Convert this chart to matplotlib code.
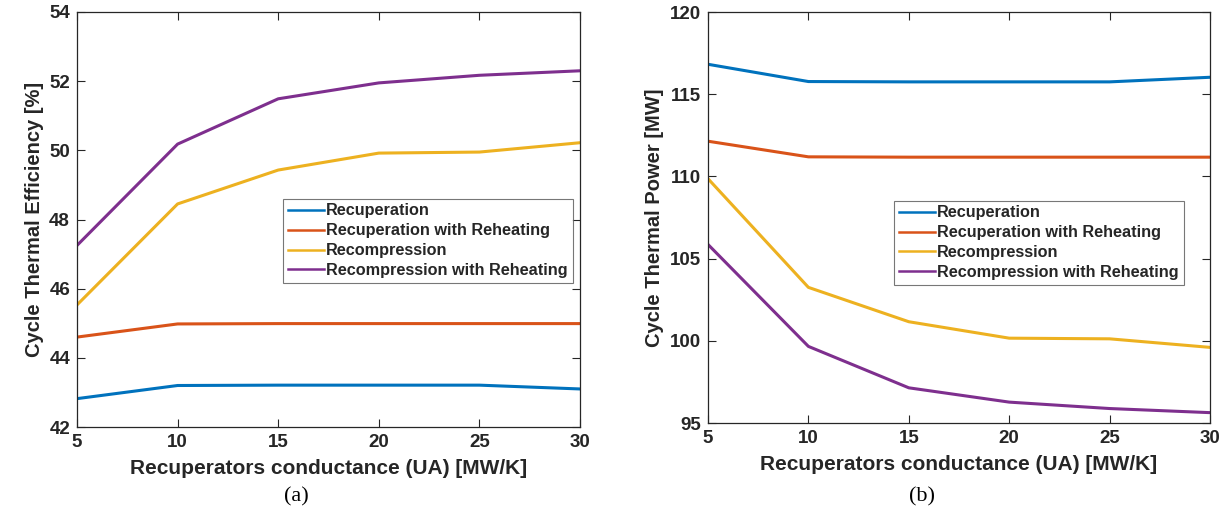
import matplotlib
matplotlib.use("Agg")
import matplotlib.pyplot as plt

ua = [5, 10, 15, 20, 25, 30]
labels = ["Recuperation", "Recuperation with Reheating", "Recompression", "Recompression with Reheating"]
colors = ["#0072BD", "#D95319", "#EDB120", "#7E2F8E"]

eff_recup = [42.82, 43.20, 43.21, 43.21, 43.21, 43.10]
eff_recup_rh = [44.60, 44.98, 44.99, 44.99, 44.99, 44.99]
eff_recomp = [45.53, 48.45, 49.43, 49.92, 49.95, 50.22]
eff_recomp_rh = [47.25, 50.18, 51.49, 51.95, 52.17, 52.30]

pow_recup = [116.82, 115.77, 115.75, 115.75, 115.75, 116.03]
pow_recup_rh = [112.14, 111.19, 111.17, 111.17, 111.17, 111.17]
pow_recomp = [109.86, 103.25, 101.16, 100.16, 100.12, 99.60]
pow_recomp_rh = [105.86, 99.66, 97.14, 96.27, 95.88, 95.63]

plt.rcParams['font.family'] = ['Liberation Sans', 'DejaVu Sans']

fig = plt.figure(figsize=(12.24, 5.18), dpi=100)
ax1 = fig.add_axes([77/1224, 1-427/518, (580-77)/1224, (427-12)/518])
ax2 = fig.add_axes([708/1224, 1-423/518, (1210-708)/1224, (423-12)/518])

def style(ax, ylim, yticks, ylabel, legloc):
    ax.set_xlim(5, 30)
    ax.set_ylim(*ylim)
    ax.set_xticks(ua)
    ax.set_yticks(yticks)
    ax.tick_params(direction='in', top=True, right=True, length=6, width=0.8,
                   labelsize=13.5, colors='#262626', pad=5)
    for lab in ax.get_xticklabels() + ax.get_yticklabels():
        lab.set_fontweight('bold')
    for s in ax.spines.values():
        s.set_color('#262626')
        s.set_linewidth(0.9)
    ax.set_xlabel("Recuperators conductance (UA) [MW/K]", fontsize=15, fontweight='bold', color='#262626', labelpad=6)
    ax.set_ylabel(ylabel, fontsize=14.5, fontweight='bold', color='#262626', labelpad=4)
    leg = ax.legend(loc='lower left', bbox_to_anchor=legloc, fontsize=11.7, frameon=True,
                    fancybox=False, edgecolor='#555555', handlelength=2.2, handletextpad=0.15,
                    borderpad=0.3, labelspacing=0.3, borderaxespad=0)
    leg.get_frame().set_linewidth(0.8)
    for line in leg.get_lines():
        line.set_linewidth(1.8)
    for t in leg.get_texts():
        t.set_fontweight('bold')
        t.set_color('#262626')

for ys, lab, c in zip([eff_recup, eff_recup_rh, eff_recomp, eff_recomp_rh], labels, colors):
    ax1.plot(ua, ys, color=c, lw=2.2, label=lab)
for ys, lab, c in zip([pow_recup, pow_recup_rh, pow_recomp, pow_recomp_rh], labels, colors):
    ax2.plot(ua, ys, color=c, lw=2.2, label=lab)

style(ax1, (42, 54), [42, 44, 46, 48, 50, 52, 54], "Cycle Thermal Efficiency [%]", (0.41, 0.347))
style(ax2, (95, 120), [95, 100, 105, 110, 115, 120], "Cycle Thermal Power [MW]", (0.371, 0.336))

fig.text(296/1224, 1-497/518, "(a)", ha='center', va='center', fontsize=16, family='Liberation Serif')
fig.text(922/1224, 1-497/518, "(b)", ha='center', va='center', fontsize=16, family='Liberation Serif')

fig.savefig("out.png", dpi=100)
